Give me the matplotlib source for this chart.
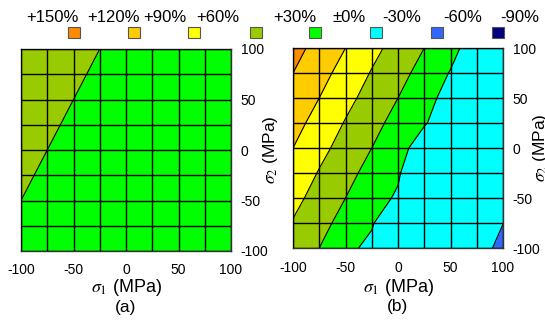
import numpy as np
import matplotlib
matplotlib.use("Agg")
import matplotlib.pyplot as plt
from matplotlib.patches import Rectangle

plt.rcParams['font.family'] = ['Liberation Sans', 'DejaVu Sans']
plt.rcParams['mathtext.fontset'] = 'stix'
plt.rcParams['axes.unicode_minus'] = False

# mesh nodes (MPa)
sigma1 = [-100, -75, -50, -25, 0, 25, 50, 75, 100]
sigma2 = [100, 75, 50, 25, 0, -25, -50, -75, -100]

# change (%) at each node, rows go from sigma2 = 100 down to -100
change_a = [
    [45, 40, 35, 30, 25, 20, 15, 10, 5],
    [42.5, 37.5, 32.5, 27.5, 22.5, 17.5, 12.5, 7.5, 5],
    [40, 35, 30, 25, 20, 15, 10, 5, 5],
    [37.5, 32.5, 27.5, 22.5, 17.5, 12.5, 7.5, 5, 5],
    [35, 30, 25, 20, 15, 10, 5, 5, 5],
    [32.5, 27.5, 22.5, 17.5, 12.5, 7.5, 5, 5, 5],
    [30, 25, 20, 15, 10, 5, 5, 5, 5],
    [27.5, 22.5, 17.5, 12.5, 7.5, 5, 5, 5, 5],
    [25, 20, 15, 10, 5, 5, 5, 5, 5],
]
change_b = [
    [130, 110, 90, 68.6, 48.8, 30, 10, -17.8, -22],
    [120, 100, 79.3, 58.1, 39.4, 20, -1.7, -20, -24],
    [110, 90, 68.6, 48.8, 30, 10, -10.8, -22, -25],
    [100, 79.3, 58.1, 39.4, 20, 1.5, -11, -22, -26],
    [90, 68.6, 48.8, 30, 7, -10, -20, -24, -26],
    [79.3, 58.1, 39.4, 20, 2, -18, -24, -25, -27],
    [68.6, 48.8, 30, 6, -2, -20, -24, -26, -28],
    [58.1, 39.4, 20, 2, -20, -22, -25, -27, -29.8],
    [48.8, 30, 5, -5, -18, -22, -25, -24, -34],
]

levels = [-90, -60, -30, 0, 30, 60, 90, 120, 150]
level_labels = ['+150%', '+120%', '+90%', '+60%', '+30%', '±0%', '-30%', '-60%', '-90%']
# band colours from lowest (-90..-60) to highest (120..150)
band_colors = ['#000080', '#3366ff', '#00ffff', '#00ff00',
               '#99cc00', '#ffff00', '#ffcc00', '#ff8c00']

fig = plt.figure(figsize=(5.45, 3.2), dpi=100)

# legend row: labels over coloured squares
label_x = [52, 113, 165, 218, 295, 349, 402, 463, 520]
square_x = [74, 134, 194, 256, 315, 376, 437, 498]
for lx, lab in zip(label_x, level_labels):
    fig.text(lx / 545, 1 - 17 / 320, lab, ha='center', va='center', fontsize=12)
for sx, col in zip(square_x, band_colors[::-1]):
    fig.patches.append(Rectangle(((sx - 6) / 545, 1 - 38 / 320), 12 / 545, 11 / 320,
                                 transform=fig.transFigure, facecolor=col,
                                 edgecolor='#555555', lw=0.8))


def draw_panel(ax, data, tag, xlab_y, tag_y, ylab_off):
    X, Y = np.meshgrid(sigma1, sigma2)
    Z = np.array(data)
    ax.contourf(X, Y, Z, levels=levels, colors=band_colors)
    ax.contour(X, Y, Z, levels=levels, colors='black', linewidths=0.8,
               linestyles='solid')
    ax.set_xlim(-100, 100)
    ax.set_ylim(-100, 100)
    ax.set_xticks([-100, -50, 0, 50, 100])
    ax.set_yticks([-100, -50, 0, 50, 100])
    ax.set_xticks(np.arange(-100, 101, 25), minor=True)
    ax.set_yticks(np.arange(-100, 101, 25), minor=True)
    ax.set_axisbelow(False)
    ax.grid(which='both', color='black', lw=1.0)
    ax.yaxis.tick_right()
    ax.tick_params(which='both', length=0, labelsize=10)
    ax.tick_params(axis='x', pad=9)
    ax.tick_params(axis='y', pad=7)
    for sp in ax.spines.values():
        sp.set_color('#333333')
        sp.set_linewidth(1.0)
    ax.text(0.5, xlab_y, r'$\sigma_1$ (MPa)', transform=ax.transAxes,
            ha='center', va='center', fontsize=13)
    ax.text(0.5, tag_y, tag, transform=ax.transAxes,
            ha='center', va='center', fontsize=12.5)
    ax.text(1 + ylab_off, 0.5, r'$\sigma_2$ (MPa)', transform=ax.transAxes,
            rotation=90, ha='center', va='center', fontsize=12.5)


ax_a = fig.add_axes([21 / 545, 1 - 251 / 320, 210 / 545, 202 / 320])
draw_panel(ax_a, change_a, '(a)', -0.18, -0.28, 40 / 210)
ax_b = fig.add_axes([293 / 545, 1 - 248 / 320, 210 / 545, 200 / 320])
draw_panel(ax_b, change_b, '(b)', -0.195, -0.295, 37 / 210)

fig.savefig('out.png', dpi=100)
